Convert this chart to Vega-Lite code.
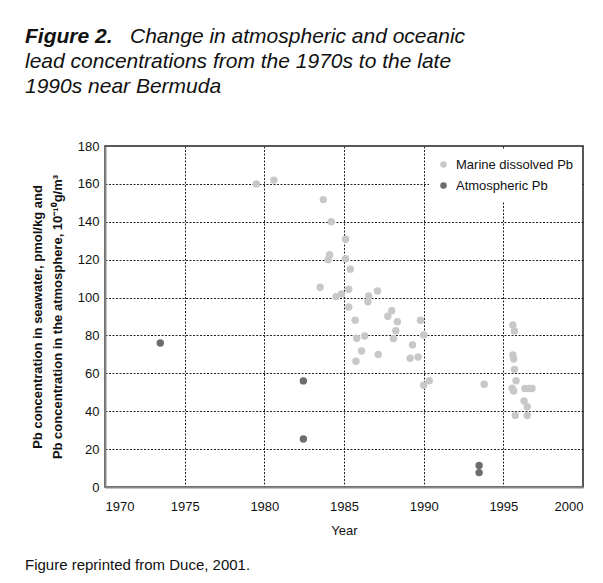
{
  "$schema": "https://vega.github.io/schema/vega-lite/v6.json",
  "background": "white",
  "padding": {"left": 25, "top": 26, "right": 0, "bottom": 0},
  "title": {
    "text": "Figure 2.",
    "subtitle": ["\u200b\u00a0\u00a0\u00a0\u00a0\u00a0\u00a0\u00a0\u00a0\u00a0\u00a0\u00a0\u00a0\u00a0\u00a0\u00a0\u00a0\u00a0\u00a0Change in atmospheric and oceanic", "lead concentrations from the 1970s to the late", "1990s near Bermuda"],
    "anchor": "start",
    "frame": "bounds",
    "font": "Liberation Sans",
    "fontSize": 21,
    "fontStyle": "italic",
    "fontWeight": "bold",
    "color": "#111111",
    "subtitleFont": "Liberation Sans",
    "subtitleFontSize": 21,
    "subtitleFontStyle": "italic",
    "subtitleFontWeight": "normal",
    "subtitleColor": "#111111",
    "subtitleLineHeight": 25,
    "subtitlePadding": -21,
    "offset": 42
  },
  "spacing": 19,
  "vconcat": [
    {
      "width": 478,
      "height": 341,
      "data": {
        "values": [
          {"year": 1979.5, "pb": 160, "type": "Marine dissolved Pb"},
          {"year": 1980.6, "pb": 162, "type": "Marine dissolved Pb"},
          {"year": 1983.7, "pb": 151.7, "type": "Marine dissolved Pb"},
          {"year": 1984.2, "pb": 140, "type": "Marine dissolved Pb"},
          {"year": 1985.1, "pb": 130.8, "type": "Marine dissolved Pb"},
          {"year": 1984.1, "pb": 122.6, "type": "Marine dissolved Pb"},
          {"year": 1984.0, "pb": 120, "type": "Marine dissolved Pb"},
          {"year": 1985.1, "pb": 120.5, "type": "Marine dissolved Pb"},
          {"year": 1985.4, "pb": 115, "type": "Marine dissolved Pb"},
          {"year": 1983.5, "pb": 105.4, "type": "Marine dissolved Pb"},
          {"year": 1984.5, "pb": 100.5, "type": "Marine dissolved Pb"},
          {"year": 1984.85, "pb": 101.9, "type": "Marine dissolved Pb"},
          {"year": 1985.3, "pb": 104.4, "type": "Marine dissolved Pb"},
          {"year": 1986.55, "pb": 100.8, "type": "Marine dissolved Pb"},
          {"year": 1986.5, "pb": 97.8, "type": "Marine dissolved Pb"},
          {"year": 1987.1, "pb": 103.5, "type": "Marine dissolved Pb"},
          {"year": 1985.3, "pb": 95, "type": "Marine dissolved Pb"},
          {"year": 1985.7, "pb": 88, "type": "Marine dissolved Pb"},
          {"year": 1988.0, "pb": 93, "type": "Marine dissolved Pb"},
          {"year": 1987.75, "pb": 90.1, "type": "Marine dissolved Pb"},
          {"year": 1988.35, "pb": 87.2, "type": "Marine dissolved Pb"},
          {"year": 1988.25, "pb": 82.5, "type": "Marine dissolved Pb"},
          {"year": 1988.1, "pb": 78.3, "type": "Marine dissolved Pb"},
          {"year": 1985.8, "pb": 78.5, "type": "Marine dissolved Pb"},
          {"year": 1986.3, "pb": 79.7, "type": "Marine dissolved Pb"},
          {"year": 1986.1, "pb": 71.8, "type": "Marine dissolved Pb"},
          {"year": 1985.75, "pb": 66.4, "type": "Marine dissolved Pb"},
          {"year": 1987.15, "pb": 70, "type": "Marine dissolved Pb"},
          {"year": 1989.8, "pb": 88, "type": "Marine dissolved Pb"},
          {"year": 1990.0, "pb": 80.2, "type": "Marine dissolved Pb"},
          {"year": 1989.3, "pb": 75, "type": "Marine dissolved Pb"},
          {"year": 1989.15, "pb": 68, "type": "Marine dissolved Pb"},
          {"year": 1989.65, "pb": 68.6, "type": "Marine dissolved Pb"},
          {"year": 1990.0, "pb": 53.7, "type": "Marine dissolved Pb"},
          {"year": 1990.35, "pb": 56.1, "type": "Marine dissolved Pb"},
          {"year": 1993.8, "pb": 54.2, "type": "Marine dissolved Pb"},
          {"year": 1995.6, "pb": 85.5, "type": "Marine dissolved Pb"},
          {"year": 1995.7, "pb": 82.4, "type": "Marine dissolved Pb"},
          {"year": 1995.6, "pb": 69.7, "type": "Marine dissolved Pb"},
          {"year": 1995.65, "pb": 67.6, "type": "Marine dissolved Pb"},
          {"year": 1995.7, "pb": 62.1, "type": "Marine dissolved Pb"},
          {"year": 1995.8, "pb": 56.1, "type": "Marine dissolved Pb"},
          {"year": 1995.55, "pb": 52.1, "type": "Marine dissolved Pb"},
          {"year": 1995.65, "pb": 50.7, "type": "Marine dissolved Pb"},
          {"year": 1996.35, "pb": 52, "type": "Marine dissolved Pb"},
          {"year": 1996.6, "pb": 52, "type": "Marine dissolved Pb"},
          {"year": 1996.8, "pb": 52, "type": "Marine dissolved Pb"},
          {"year": 1996.3, "pb": 45.4, "type": "Marine dissolved Pb"},
          {"year": 1996.5, "pb": 42.4, "type": "Marine dissolved Pb"},
          {"year": 1995.75, "pb": 37.8, "type": "Marine dissolved Pb"},
          {"year": 1996.5, "pb": 37.7, "type": "Marine dissolved Pb"},
          {"year": 1973.47, "pb": 76, "type": "Atmospheric Pb"},
          {"year": 1982.45, "pb": 56, "type": "Atmospheric Pb"},
          {"year": 1982.45, "pb": 25.3, "type": "Atmospheric Pb"},
          {"year": 1993.48, "pb": 11.4, "type": "Atmospheric Pb"},
          {"year": 1993.48, "pb": 7.6, "type": "Atmospheric Pb"}
        ]
      },
      "mark": {"type": "circle", "size": 55, "opacity": 1},
      "encoding": {
        "x": {
          "field": "year",
          "type": "quantitative",
          "scale": {"domain": [1970, 2000], "nice": false, "zero": false},
          "axis": {
            "values": [1970, 1975, 1980, 1985, 1990, 1995, 2000],
            "format": "d",
            "title": "Year",
            "labelPadding": 13,
            "titlePadding": 11,
            "titleFontWeight": "normal",
            "titleFontSize": 13,
            "gridOpacity": {"condition": {"test": "datum.value == 1970 || datum.value == 2000", "value": 0}, "value": 1}
          }
        },
        "y": {
          "field": "pb",
          "type": "quantitative",
          "scale": {"domain": [0, 180], "nice": false},
          "axis": {
            "values": [0, 20, 40, 60, 80, 100, 120, 140, 160, 180],
            "title": ["Pb concentration in seawater, pmol/kg and", "Pb concentration in the atmosphere, 10\u207b\u00b9\u2070g/m\u00b3"],
            "labelPadding": 6,
            "titlePadding": 13,
            "titleFontWeight": "bold",
            "titleFontSize": 13,
            "titleLineHeight": 20,
            "gridOpacity": {"condition": {"test": "datum.value == 0 || datum.value == 180", "value": 0}, "value": 1}
          }
        },
        "color": {
          "field": "type",
          "type": "nominal",
          "scale": {"domain": ["Marine dissolved Pb", "Atmospheric Pb"], "range": ["#c8c8c8", "#6d6d6d"]},
          "legend": {
            "title": null,
            "orient": "none",
            "legendX": 324,
            "legendY": 4,
            "padding": 8,
            "fillColor": "white",
            "symbolType": "circle",
            "symbolSize": 42,
            "labelFontSize": 13,
            "labelOffset": 6,
            "rowPadding": 7
          }
        }
      }
    },
    {
      "width": 1,
      "height": 1,
      "view": {"stroke": null},
      "data": {"values": [{"note": ""}]},
      "mark": {"type": "text"},
      "encoding": {"text": {"field": "note", "type": "nominal"}},
      "title": {
        "text": "Figure reprinted from Duce, 2001.",
        "anchor": "start",
        "frame": "group",
        "font": "Liberation Sans",
        "fontSize": 15,
        "fontWeight": "normal",
        "fontStyle": "normal",
        "color": "#111111",
        "dx": -80,
        "offset": 0
      }
    }
  ],
  "config": {
    "view": {"stroke": "#222222", "strokeWidth": 1.5},
    "font": "Liberation Sans",
    "axis": {
      "labelFont": "Liberation Sans",
      "titleFont": "Liberation Sans",
      "labelFontSize": 13,
      "labelColor": "#111111",
      "titleColor": "#111111",
      "domainColor": "#888888",
      "domainWidth": 2,
      "ticks": false,
      "grid": true,
      "gridColor": "#222222",
      "gridDash": [2, 1.5],
      "gridWidth": 1
    },
    "legend": {
      "labelFont": "Liberation Sans",
      "labelColor": "#111111"
    }
  }
}
